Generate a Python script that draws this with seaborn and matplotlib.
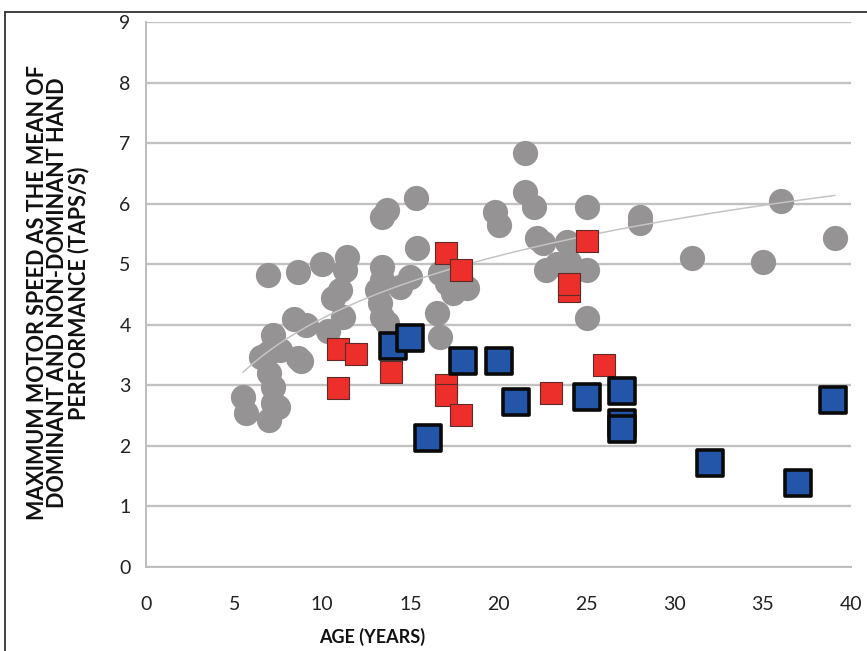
import numpy as np
import pandas as pd
import matplotlib
matplotlib.use('Agg')
import matplotlib.pyplot as plt
from matplotlib.lines import Line2D
from matplotlib.ticker import MultipleLocator
import seaborn as sns

# grey circles: typical group
gray_age = [5.5, 5.7, 6.5, 6.9, 6.9, 7.0, 7.0, 7.2, 7.2, 7.2, 7.5, 7.6, 8.4, 8.6, 8.6, 8.8,
            9.1, 10.0, 10.3, 10.6, 11.0, 11.2, 11.3, 11.4, 13.1, 13.3, 13.4, 13.4, 13.4, 13.4,
            13.7, 13.7, 14.4, 15.0, 15.3, 15.4, 16.5, 16.7, 16.7, 17.1, 17.4, 18.2,
            19.8, 20.0, 21.5, 21.5, 22.0, 22.2, 22.5, 22.7, 23.3, 23.9, 24.0, 25.0, 25.0, 25.0,
            28.0, 28.0, 31.0, 35.0, 36.0, 39.1]
gray_speed = [2.80, 2.54, 3.47, 4.82, 3.53, 3.20, 2.43, 3.83, 2.97, 2.71, 2.64, 3.58, 4.10, 4.87, 3.45, 3.40,
              3.99, 5.01, 3.90, 4.44, 4.57, 4.13, 4.90, 5.12, 4.57, 4.36, 5.78, 4.95, 4.74, 4.13,
              5.89, 4.03, 4.62, 4.79, 6.09, 5.26, 4.19, 4.85, 3.80, 4.69, 4.52, 4.60,
              5.86, 5.64, 6.83, 6.19, 5.94, 5.43, 5.35, 4.90, 5.00, 5.37, 5.03, 5.94, 4.90, 4.11,
              5.78, 5.68, 5.10, 5.03, 6.04, 5.43]

red_age = [10.9, 11.9, 10.9, 13.9, 17.0, 17.0, 17.9, 17.0, 17.9, 25.0, 24.0, 24.0, 23.0, 26.0]
red_speed = [3.60, 3.51, 2.95, 3.22, 3.00, 2.84, 2.51, 5.18, 4.90, 5.38, 4.55, 4.67, 2.87, 3.33]

blue_age = [14.0, 15.0, 18.0, 20.0, 21.0, 16.0, 25.0, 27.0, 27.0, 27.0, 32.0, 37.0, 39.0]
blue_speed = [3.65, 3.78, 3.40, 3.40, 2.72, 2.13, 2.81, 2.90, 2.37, 2.28, 1.72, 1.39, 2.76]

gray = pd.DataFrame({'age': gray_age, 'speed': gray_speed})
red = pd.DataFrame({'age': red_age, 'speed': red_speed})
blue = pd.DataFrame({'age': blue_age, 'speed': blue_speed})

sns.set_style('white')
plt.rcParams['font.family'] = ['Lato', 'DejaVu Sans']

fig = plt.figure(figsize=(8.67, 6.51), dpi=100)
ax = fig.add_axes([146/867, 1 - 567/651, (851 - 146)/867, (567 - 22)/651])

sns.scatterplot(data=gray, x='age', y='speed', ax=ax, color='#959393', s=330,
                edgecolor='#959393', linewidth=0, zorder=3)

# logarithmic trend line fitted to the grey group
a, b = np.polyfit(np.log(gray['age']), gray['speed'], 1)
tx = np.linspace(gray['age'].min(), gray['age'].max(), 200)
ax.plot(tx, a*np.log(tx) + b, color='#c4c4c4', lw=1.1, zorder=4)

sns.scatterplot(data=red, x='age', y='speed', ax=ax, marker='s', color='#ec2f2b', s=270,
                edgecolor='#5e2a2a', linewidth=0.8, zorder=5)
sns.scatterplot(data=blue, x='age', y='speed', ax=ax, marker='s', color='#2356a8', s=360,
                edgecolor='#0a0a0a', linewidth=2.6, zorder=6)

ax.set_xlim(0, 40)
ax.set_ylim(0, 9)
ax.xaxis.set_major_locator(MultipleLocator(5))
ax.xaxis.set_minor_locator(MultipleLocator(1))
ax.yaxis.set_major_locator(MultipleLocator(1))
ax.grid(axis='y', color='#c2c2c2', lw=1.7)
ax.set_axisbelow(True)
for s in ['top', 'right']:
    ax.spines[s].set_visible(False)
for s in ['left', 'bottom']:
    ax.spines[s].set_color('#bdbdbd')
    ax.spines[s].set_linewidth(1.4)

ax.tick_params(axis='x', which='major', direction='inout', length=12, width=1.1,
               color='#a8a8a8', pad=15, labelsize=14, labelcolor='#222222')
ax.tick_params(axis='x', which='minor', direction='inout', length=8, width=1.1, color='#a8a8a8')
ax.tick_params(axis='y', which='major', direction='out', length=5, width=1.1,
               color='#a8a8a8', pad=6, labelsize=14, labelcolor='#222222')

ax.set_xlabel('')
ax.set_ylabel('')
fig.text(372/867, 1 - 637/651, 'AGE (YEARS)', ha='center', va='center',
         fontsize=13, fontweight='bold', color='#111111')
fig.text(58/867, 1 - 293/651,
         'MAXIMUM MOTOR SPEED AS THE MEAN OF\nDOMINANT AND NON-DOMINANT HAND\nPERFORMANCE (TAPS/S)',
         ha='center', va='center', rotation=90, fontsize=15.5, fontweight='bold',
         color='#111111', linespacing=0.95)

# page frame around the figure
fig.add_artist(Line2D([5/867, 5/867], [0, 1 - 12/651], transform=fig.transFigure, color='#333333', lw=1.3))
fig.add_artist(Line2D([5/867, 1], [1 - 12/651, 1 - 12/651], transform=fig.transFigure, color='#333333', lw=1.3))

fig.savefig('out.png', dpi=100)
